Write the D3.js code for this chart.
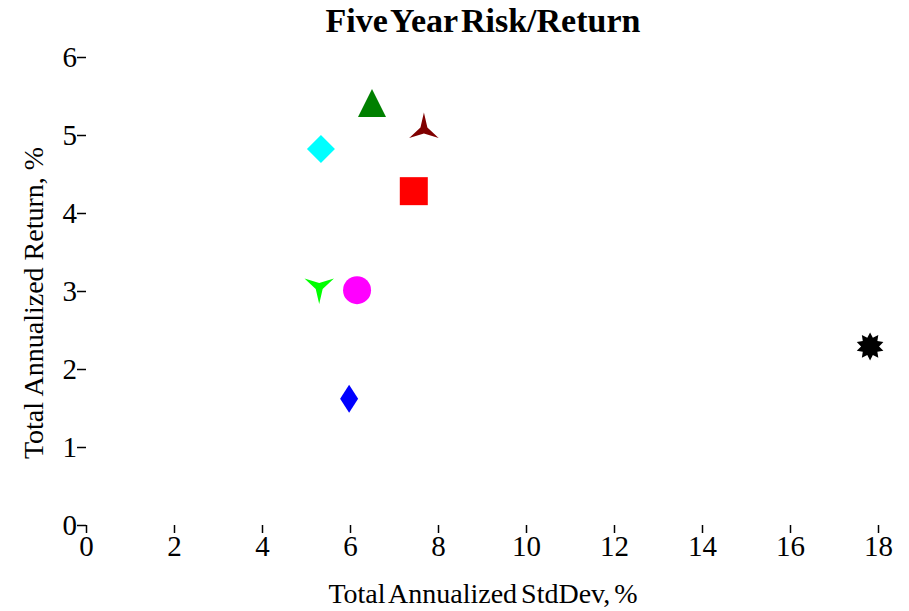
<!DOCTYPE html>
<html><head><meta charset="utf-8">
<script src="https://d3js.org/d3.v7.min.js"></script>
<style>body{margin:0;background:#fff}svg{display:block}text{font-family:"Liberation Serif","Times New Roman",serif}</style>
</head><body>
<svg id="c" width="909" height="611"></svg>
<script>
const names = ["A","B","C","D","E","F","G","H"];
const stdDev = [5.34, 6.50, 7.68, 7.45, 5.30, 6.16, 5.98, 17.82];
const returns = [4.82, 5.36, 5.07, 4.28, 3.05, 3.01, 1.62, 2.29];
const shapes = ["diamond","triangle","star3up","square","star3down","circle","thindiamond","star10"];
const colors = ["#00ffff","#008000","#800000","#ff0000","#00ff00","#ff00ff","#0000ff","#000000"];
const xTicks = [0,2,4,6,8,10,12,14,16,18];
const yTicks = [0,1,2,3,4,5,6];

const svg = d3.select("#c");
const x = d3.scaleLinear().domain([0,18]).range([86,878]);
const y = d3.scaleLinear().domain([0,6]).range([525,57]);

svg.append("text").attr("x",483).attr("y",32).attr("text-anchor","middle")
  .style("font-size","34px").style("word-spacing","-5px").attr("font-weight","bold").text("Five Year Risk/Return");

const xa = svg.append("g").attr("transform","translate(0,525)")
  .call(d3.axisBottom(x).tickValues(xTicks).tickSize(8).tickPadding(1).tickFormat(d3.format("d")));
xa.select(".domain").remove();
xa.selectAll("text").style("font-size","29px").attr("dy","0.75em");
xa.selectAll("line").attr("stroke","#000").attr("stroke-width",1.5);

const ya = svg.append("g").attr("transform","translate(86,0)")
  .call(d3.axisLeft(y).tickValues(yTicks).tickSize(9).tickPadding(0).tickFormat(d3.format("d")));
ya.select(".domain").remove();
ya.selectAll("text").style("font-size","29px");
ya.selectAll("line").attr("stroke","#000").attr("stroke-width",1.5);

svg.append("text").attr("x",483).attr("y",603).attr("text-anchor","middle")
  .style("font-size","28px").style("word-spacing","-3px").text("Total Annualized StdDev, %");
svg.append("text").attr("transform","translate(43,303) rotate(-90)").attr("text-anchor","middle")
  .style("font-size","28px").text("Total Annualized Return, %");

function star(n, R, r, rot){
  const pts=[];
  for(let i=0;i<2*n;i++){
    const a = rot + i*Math.PI/n;
    const rr = i%2===0?R:r;
    pts.push([rr*Math.sin(a), -rr*Math.cos(a)]);
  }
  return "M"+pts.map(p=>p.join(",")).join("L")+"Z";
}
function pathFor(s){
  switch(s){
    case "diamond": return "M0,-14L14,0L0,14L-14,0Z";
    case "thindiamond": return "M0,-14L9,0L0,14L-9,0Z";
    case "square": return "M-14,-14L14,-14L14,14L-14,14Z";
    case "triangle": return "M0,-18L14,10L-14,10Z";
    case "circle": return d3.symbol(d3.symbolCircle, Math.PI*14*14)();
    case "star3up": return star(3,17,4,0);
    case "star3down": return star(3,17,4,Math.PI);
    case "star10": return star(10,14,9,0);
  }
}
svg.append("g").selectAll("path").data(names).join("path")
  .attr("d",(d,i)=>pathFor(shapes[i]))
  .attr("transform",(d,i)=>`translate(${x(stdDev[i])},${y(returns[i])})`)
  .attr("fill",(d,i)=>colors[i]);
</script>
</body></html>
